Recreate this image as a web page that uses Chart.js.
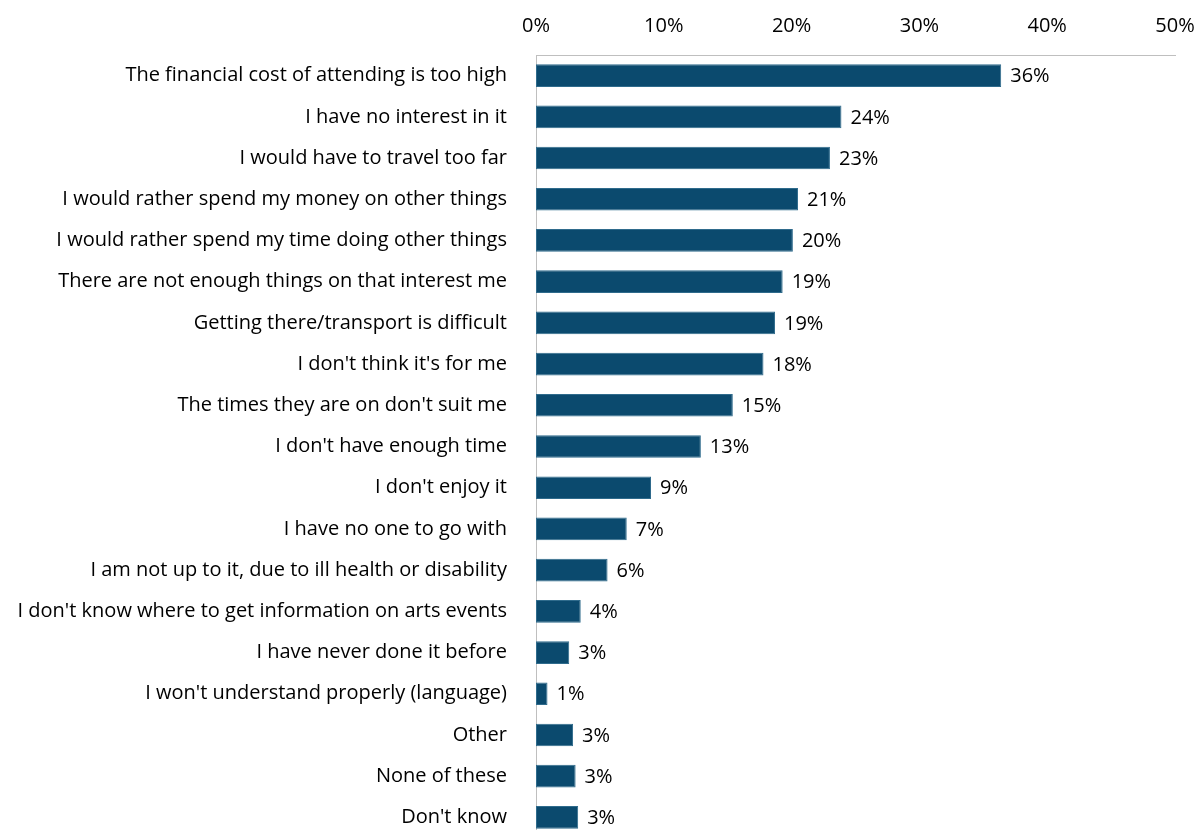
<!DOCTYPE html>
<html>
<head>
    <title>Reasons for not attending</title>
    <script src="https://cdn.jsdelivr.net/npm/chart.js@4.4.0/dist/chart.umd.min.js"></script>
    <style>
        * {
            margin: 0;
            padding: 0;
            box-sizing: border-box;
        }

        body {
            background: #fff;
            overflow: hidden;
        }

        canvas {
            display: block;
        }
    </style>
</head>
<body>
    <canvas id="barChart" width="1198" height="838"></canvas>

    <script>
        const categories = [
            "The financial cost of attending is too high",
            "I have no interest in it",
            "I would have to travel too far",
            "I would rather spend my money on other things",
            "I would rather spend my time doing other things",
            "There are not enough things on that interest me",
            "Getting there/transport is difficult",
            "I don't think it's for me",
            "The times they are on don't suit me",
            "I don't have enough time",
            "I don't enjoy it",
            "I have no one to go with",
            "I am not up to it, due to ill health or disability",
            "I don't know where to get information on arts events",
            "I have never done it before",
            "I won't understand properly (language)",
            "Other",
            "None of these",
            "Don't know"
        ];
        const values = [36.4, 23.9, 23.0, 20.5, 20.1, 19.3, 18.7, 17.8, 15.4, 12.9, 9.0, 7.1, 5.6, 3.5, 2.6, 0.9, 2.9, 3.1, 3.3];
        const xTicks = [0, 10, 20, 30, 40, 50];

        const fontFamily = '"Open Sans", Lato, Arial, sans-serif';

        // Value labels at the end of each bar
        const barLabels = {
            id: 'barLabels',
            afterDatasetsDraw(chart) {
                const ctx = chart.ctx;
                const meta = chart.getDatasetMeta(0);
                ctx.save();
                ctx.font = '20px ' + fontFamily;
                ctx.fillStyle = '#000';
                ctx.textAlign = 'left';
                ctx.textBaseline = 'middle';
                meta.data.forEach((bar, i) => {
                    ctx.fillText(Math.round(values[i]) + '%', bar.x + 9, bar.y + 1);
                });
                ctx.restore();
            }
        };

        const ctx = document.getElementById('barChart').getContext('2d');
        new Chart(ctx, {
            type: 'bar',
            data: {
                labels: categories,
                datasets: [{
                    data: values,
                    backgroundColor: '#0b4a6e',
                    borderColor: '#2f6b8c',
                    borderWidth: 1,
                    borderSkipped: false,
                    categoryPercentage: 1,
                    barPercentage: 0.55
                }]
            },
            options: {
                indexAxis: 'y',
                responsive: false,
                maintainAspectRatio: false,
                animation: false,
                layout: {
                    padding: { left: 0, right: 23, top: 0, bottom: 0 }
                },
                plugins: {
                    legend: { display: false },
                    tooltip: { enabled: false }
                },
                scales: {
                    x: {
                        position: 'top',
                        min: 0,
                        max: 50,
                        afterBuildTicks(axis) {
                            axis.ticks = xTicks.map(v => ({ value: v }));
                        },
                        afterFit(axis) {
                            axis.height = 55;
                            axis.paddingLeft = 0;
                            axis.paddingRight = 0;
                        },
                        grid: { display: false },
                        border: { display: true, color: '#bfbfbf', width: 1 },
                        ticks: {
                            color: '#000',
                            padding: 9,
                            font: { size: 20, family: fontFamily },
                            maxRotation: 0,
                            callback: v => v + '%'
                        }
                    },
                    y: {
                        afterFit(axis) {
                            axis.width = 536;
                            axis.paddingTop = 0;
                            axis.paddingBottom = 0;
                        },
                        grid: { display: false },
                        border: { display: true, color: '#bfbfbf', width: 1 },
                        ticks: {
                            color: '#000',
                            padding: 21,
                            autoSkip: false,
                            font: { size: 20, family: fontFamily }
                        }
                    }
                }
            },
            plugins: [barLabels]
        });
    </script>
</body>
</html>
